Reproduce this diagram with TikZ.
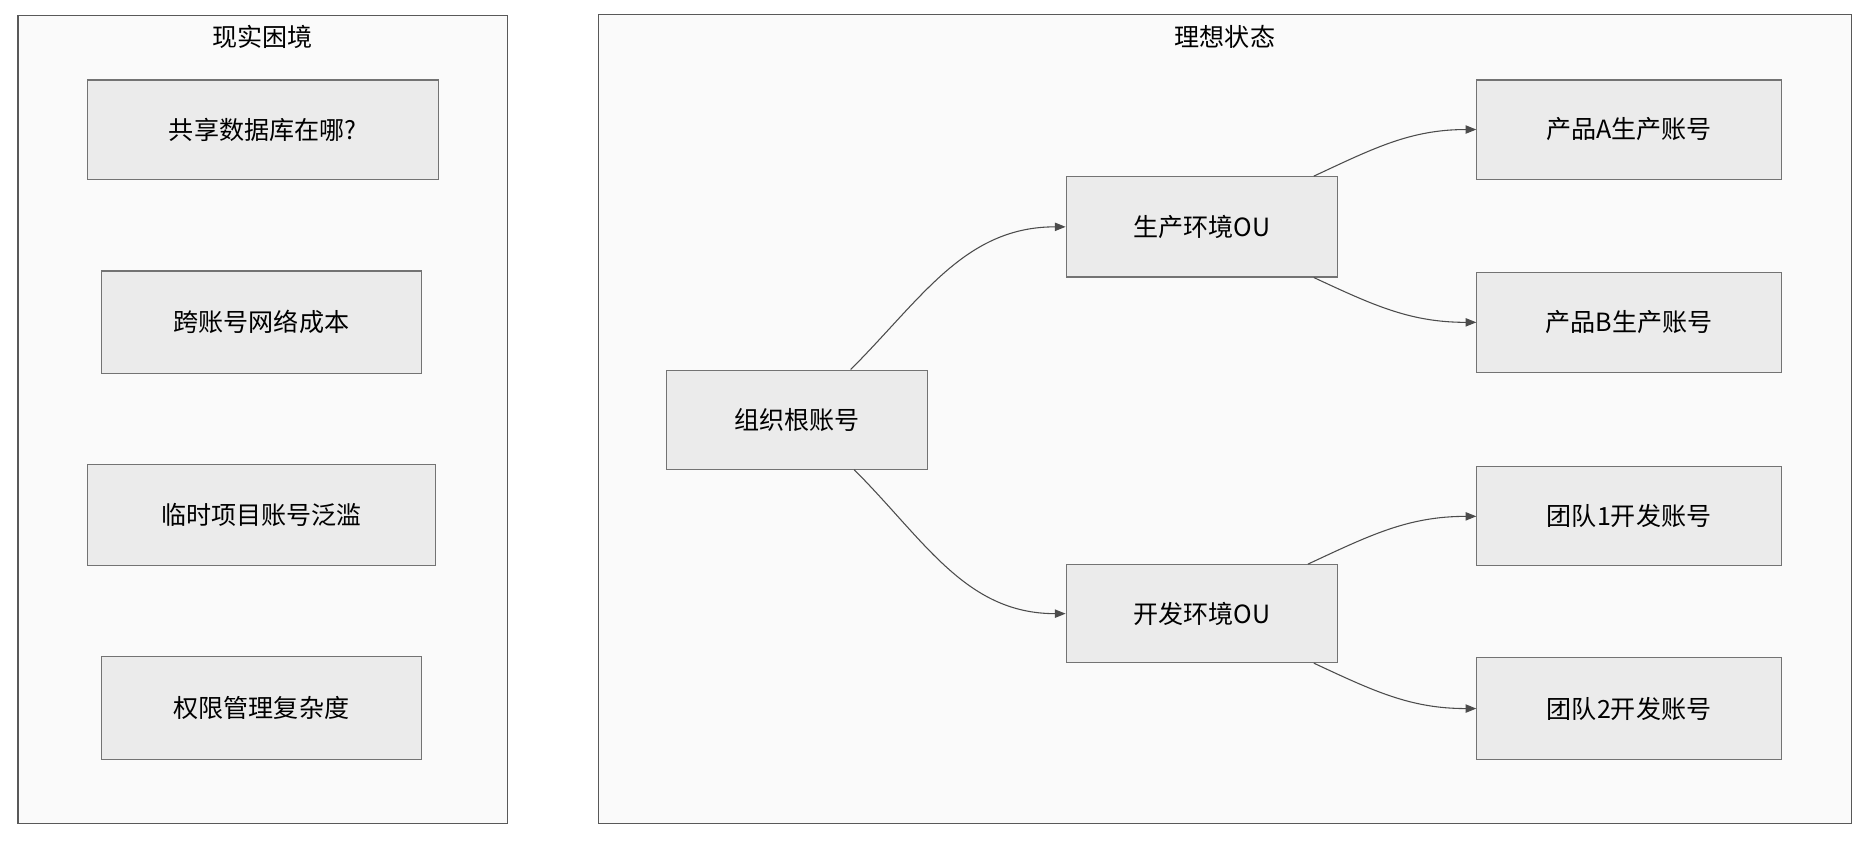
\documentclass[tikz,border=0pt]{standalone}
\usepackage{fontspec}
\setmainfont{Noto Sans CJK SC}
\usetikzlibrary{arrows.meta}
\begin{document}
\begin{tikzpicture}[x=1pt,y=-1pt,
  frame/.style={draw=black!65,line width=1pt,fill=black!2},
  box/.style={draw=black!55,line width=0.9pt,fill=black!8,font=\fontsize{21}{24}\selectfont},
  ttl/.style={font=\fontsize{21}{24}\selectfont},
  arr/.style={draw=black!70,line width=0.9pt,-{Triangle[length=9pt,width=7pt]}}]
\useasboundingbox (0,0) rectangle (1568,703.6);
\draw[frame] (15,13) rectangle (425,690);
\node[ttl] (t1) at (220,31) {现实困境};
\draw[frame] (501,12) rectangle (1551,690);
\node[ttl] (t2) at (1026,31) {理想状态};
\newcommand{\bx}[6]{\node[box,minimum width=#4-#2,minimum height=#5-#3] (#1) at ({(#2+#4)/2},{(#3+#5)/2}) {#6};}
\bx{l1}{73}{67}{367}{150}{共享数据库在哪?}
\bx{l2}{85}{227}{353}{313}{跨账号网络成本}
\bx{l3}{73}{389}{365}{474}{临时项目账号泛滥}
\bx{l4}{85}{550}{353}{636}{权限管理复杂度}
\bx{root}{558}{310}{777}{393}{组织根账号}
\bx{sc}{893}{148}{1120}{232}{生产环境OU}
\bx{kf}{893}{473}{1120}{555}{开发环境OU}
\bx{pa}{1237}{67}{1492}{150}{产品A生产账号}
\bx{pb}{1237}{228}{1492}{312}{产品B生产账号}
\bx{t1a}{1237}{391}{1492}{474}{团队1开发账号}
\bx{t2a}{1237}{551}{1492}{636}{团队2开发账号}
\draw[arr] ([xshift=45pt]root.north) to[out=45,in=180] (sc.west);
\draw[arr] ([xshift=48pt]root.south) to[out=-45,in=180] (kf.west);
\draw[arr] ([xshift=-20pt]sc.north east) to[out=25,in=180] (pa.west);
\draw[arr] ([xshift=-20pt]sc.south east) to[out=-25,in=180] (pb.west);
\draw[arr] ([xshift=-25pt]kf.north east) to[out=25,in=180] (t1a.west);
\draw[arr] ([xshift=-20pt]kf.south east) to[out=-25,in=180] (t2a.west);
\end{tikzpicture}
\end{document}
